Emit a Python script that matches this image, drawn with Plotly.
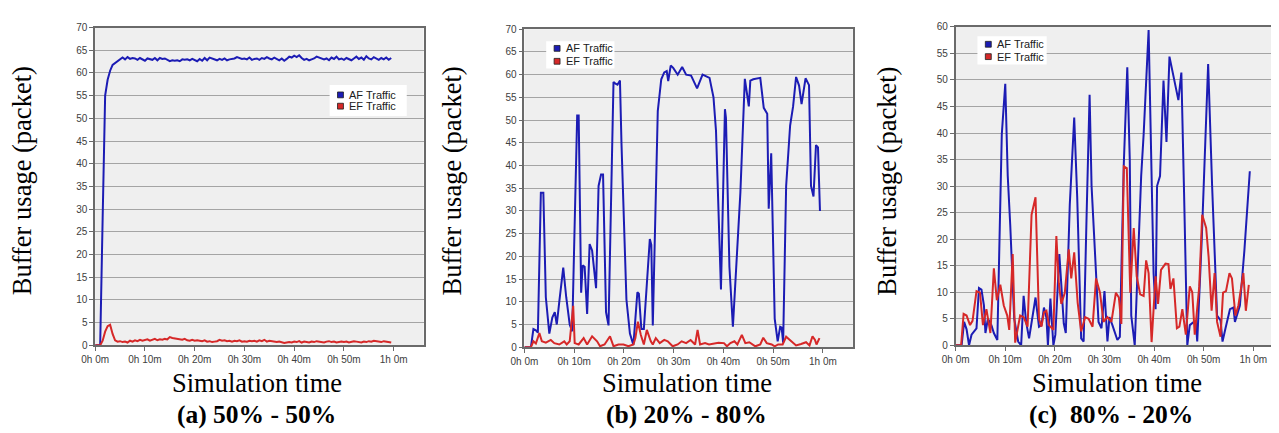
import plotly.graph_objects as go

# ---------------- data ----------------
tick_vals = [0, 10, 20, 30, 40, 50, 60]
tick_text = ["0h 0m", "0h 10m", "0h 20m", "0h 30m", "0h 40m", "0h 50m", "1h 0m"]

# panel (a): samples every 0.5 min, 0 .. 59.5
t_a = [i * 0.5 for i in range(120)]
af_a = [0, 0, 0, 28, 55, 58.5, 60.5, 61.8, 62.2, 62.4,
        62.8, 63.4, 63.0, 63.5, 63.1, 63.3, 63.2, 62.9, 63.3, 63.0,
        62.7, 63.2, 63.1, 62.9, 63.3, 62.8, 63.3, 63.1, 63.2, 62.9,
        62.6, 62.8, 62.7, 62.8, 62.6, 63.0, 62.9, 63.0, 62.8, 63.1,
        62.9, 62.6, 63.1, 62.7, 63.3, 62.8, 63.4, 63.2, 63.0, 62.8,
        63.1, 62.9, 63.2, 62.8, 63.0, 63.1, 63.2, 63.5, 63.3, 63.1,
        63.2, 63.0, 63.4, 62.9, 63.1, 63.2, 62.9, 63.3, 63.1, 63.5,
        63.2, 63.0, 63.4, 63.1, 62.8, 63.2, 62.7, 63.1, 63.6, 63.4,
        63.8, 63.5, 63.9, 63.3, 62.9, 63.1, 62.8, 63.0, 63.2, 63.6,
        63.4, 63.3, 63.0, 63.2, 62.8, 63.4, 63.1, 63.6, 63.0, 63.2,
        62.9, 63.3, 63.0, 62.8, 63.2, 63.6, 63.1, 63.4, 62.9, 63.7,
        63.2, 63.0, 63.5, 63.1, 62.9, 63.3, 63.0, 63.4, 62.9, 63.3]
ef_a = [0, 0, 0, 1.0, 3.0, 4.2, 4.5, 2.5, 1.1, 0.8,
        0.9, 0.7, 0.8, 0.6, 1.0, 0.8, 1.1, 0.9, 1.2, 1.0,
        1.1, 1.3, 1.0, 1.2, 1.4, 1.1, 1.3, 1.2, 1.4, 1.3,
        1.8, 1.6, 1.5, 1.4, 1.3, 1.2, 1.4, 1.1, 1.0, 1.2,
        1.0, 1.1, 1.0, 0.9, 1.1, 0.8, 0.9, 0.7, 0.8, 0.9,
        1.2, 1.0, 1.1, 0.9, 1.0, 0.8, 1.0, 0.9, 1.1, 0.8,
        0.9, 0.8, 1.0, 0.9, 1.0, 0.8, 1.1, 0.9, 1.2, 0.8,
        1.0, 0.9, 0.8, 0.7, 0.8, 0.6, 0.5, 0.6, 0.7, 0.6,
        0.8, 0.7, 0.9, 0.6, 0.8, 0.7, 0.6, 0.8, 0.7, 0.9,
        0.8, 0.7, 0.6, 0.8, 0.9, 0.7, 0.8, 0.6, 0.7, 0.8,
        0.7, 0.8, 0.6, 0.7, 0.9, 0.8, 0.7, 0.6, 0.8, 0.7,
        0.9, 0.8, 1.0, 0.9, 0.8, 0.7, 0.9, 0.8, 0.7, 0.6]

# panel (b)
t_af_b = [0, 1.3, 1.8, 2.3, 2.7, 3.3, 3.8, 4.3, 5.0, 5.6, 6.1, 6.5, 7.0, 7.8, 8.4, 9.1, 9.6,
          10.6, 10.9, 11.4, 11.7, 12.1, 12.6, 13.1, 13.6, 14.4, 14.9, 15.4, 15.8, 16.4, 16.9,
          17.9, 18.3, 18.7, 19.2, 19.5, 20.5, 21.2, 21.9, 22.7, 23.0, 23.5, 24.0, 25.2, 25.5,
          25.8, 26.8, 27.5, 28.1, 28.6, 28.9, 29.4, 29.9, 30.8, 31.7, 32.5, 33.5, 34.7, 35.8,
          37.2, 38.0, 38.5, 39.5, 40.3, 40.5, 41.2, 41.9, 42.7, 43.4, 44.3, 45.1, 45.4, 46.0,
          47.4, 48.1, 48.8, 49.1, 49.6, 50.3, 50.9, 51.4, 51.7, 52.0, 52.6, 53.4, 54.0, 54.6,
          55.2, 55.7, 56.5, 57.2, 57.6, 58.1, 58.6, 59.0, 59.4]
af_b = [0, 0, 4, 3.7, 3.2, 34, 34, 11, 3, 6.5, 7.7, 5, 10, 17.5, 11, 5, 3.5,
        51, 51, 12, 18, 17.7, 7.3, 22.7, 21.3, 13, 35.5, 38, 38, 7.7, 4.8,
        58.4, 58, 57.8, 58.7, 45, 10.5, 3, 0.5, 12.1, 11.8, 4, 4, 23.8, 22.5,
        4.8, 52, 59, 60.5, 60.8, 58.6, 62, 61.5, 60, 61.7, 60, 59.8, 57, 60,
        59.3, 55, 47.7, 12.7, 52.4, 50.5, 17.7, 4.5, 20.5, 34, 59.1, 53, 58.7, 59,
        59.3, 52.7, 51.4, 30.5, 42.7, 6.3, 1.3, 4.5, 4.3, 1, 35.5, 48.8, 53, 59.5,
        57.6, 53.5, 59.2, 57.7, 35.5, 33.2, 44.5, 44, 30]
t_ef_b = [0, 1.3, 1.8, 2.3, 3.0, 3.5, 4.3, 5.3, 6.0, 7.0, 8.0, 8.5, 9.1, 9.8, 10.1, 10.9,
          11.9, 12.6, 13.6, 14.6, 15.2, 16.1, 17.2, 17.9, 18.9, 19.9, 20.9, 21.9, 22.3, 22.8,
          23.4, 24.0, 24.6, 25.4, 25.8, 26.4, 27.2, 28.1, 28.8, 29.8, 30.8, 31.6, 32.5, 33.4,
          34.3, 34.8, 35.3, 36.3, 37.1, 38.1, 39.0, 40.1, 40.7, 41.4, 42.2, 42.8, 43.7, 44.4,
          45.2, 46.4, 47.4, 48.0, 48.7, 49.7, 50.3, 51.0, 51.9, 52.6, 53.6, 54.6, 55.6, 56.6,
          57.3, 57.9, 58.4, 58.7, 59.3]
ef_b = [0, 0, 1.3, 0.8, 3.1, 1.3, 1.0, 1.6, 0.9, 0.6, 1.3, 0.6, 1.3, 9.1, 0.9, 0.6,
        2.0, 0.6, 2.4, 1.3, 0.2, 0.6, 2.4, 0.2, 0.6, 0.6, 0.2, 0.6, 2.0, 5.6,
        2.7, 0.6, 3.8, 1.3, 0.6, 2.0, 0.9, 1.6, 1.3, 0.2, 0.6, 1.3, 0.9, 1.6,
        0.6, 3.8, 0.6, 0.9, 0.6, 0.9, 1.0, 0.9, 0.2, 0.9, 1.3, 0.6, 2.7, 0.9,
        1.1, 0.2, 0.6, 2.1, 0.9, 0.6, 0.2, 0.6, 0.6, 2.3, 1.3, 0.4, 0.7, 1.1,
        0.4, 2.4, 1.6, 0.6, 2.0]

# panel (c)
t_af_c = [0, 1.2, 1.7, 2.2, 2.7, 3.2, 4.2, 4.7, 5.2, 5.7, 6.0, 6.5, 7.2, 7.7, 8.4, 9.3,
          10.0, 10.5, 11.0, 11.8, 12.6, 13.2, 13.7, 14.2, 14.8, 15.3, 16.1, 16.8, 17.3, 17.8,
          18.3, 18.6, 19.1, 19.7, 20.1, 20.9, 21.5, 21.8, 22.2, 23.0, 23.9, 24.5, 25.3, 25.8,
          26.4, 27.0, 27.4, 28.8, 29.4, 30.0, 30.6, 31.0, 31.6, 32.6, 33.1, 33.9, 34.6, 35.1,
          35.4, 36.1, 37.4, 37.9, 38.9, 39.4, 39.9, 40.3, 40.6, 41.2, 41.9, 42.5, 43.1, 44.9,
          45.5, 46.0, 46.7, 47.2, 48.0, 48.4, 48.7, 49.6, 50.9, 51.7, 52.7, 53.4, 53.8, 54.4,
          55.3, 56.0, 56.3, 57.3, 58.2, 59.3]
af_c = [0, 0, 4.4, 3.0, 0, 2, 3.2, 10.8, 10.5, 7.5, 2.3, 5, 3.8, 2.3, 1, 39.8,
        49.3, 31.9, 22.7, 5, 0.7, 0, 9.3, 4.4, 1.3, 4, 9, 3.5, 3.8, 7.1,
        5.2, 0, 8.8, 0, 2, 17.2, 7.5, 4.1, 2.3, 26.4, 42.9, 28, 1.3, 0.7,
        24.6, 47.2, 30, 4.4, 3.2, 10.2, 0.7, 5.3, 3.8, 1, 1.6, 34.3, 52.4, 35,
        5.6, 0, 31.9, 39.8, 59.4, 35, 13.6, 6.8, 30, 31.9, 49.9, 38.3, 54.4, 46.2,
        51.4, 30.7, 0, 3.8, 4.4, 4.5, 0.7, 19.7, 53, 30, 5.6, 4.7, 0.7, 3.2,
        6.8, 7.1, 4.4, 7.5, 17.8, 32.8]
t_ef_c = [0, 1.1, 1.6, 2.2, 2.9, 3.4, 4.2, 4.9, 5.5, 6.2, 7.0, 7.7, 8.3, 9.0, 9.7, 10.4,
          10.8, 11.5, 12.0, 13.0, 13.7, 14.5, 15.3, 16.1, 16.8, 17.3, 17.8, 18.3, 18.8, 19.7,
          20.3, 20.8, 21.3, 22.0, 22.8, 23.3, 23.9, 24.6, 25.3, 26.1, 26.8, 27.6, 28.3, 29.1,
          29.8, 30.6, 31.4, 32.3, 32.9, 33.4, 33.9, 34.5, 35.2, 35.9, 36.5, 37.2, 37.9, 38.4,
          38.9, 39.5, 40.3, 40.8, 41.4, 42.3, 42.9, 43.3, 43.9, 44.6, 45.1, 45.7, 46.4, 47.2,
          47.7, 48.2, 49.1, 49.7, 50.5, 51.0, 51.6, 52.2, 52.7, 53.4, 53.9, 54.5, 55.2, 55.7,
          56.4, 57.0, 58.0, 58.5, 59.1]
ef_c = [0, 0, 5.9, 5.6, 3.8, 4.6, 10.2, 9.9, 3.8, 6.8, 2.3, 14.5, 8.5, 11.4, 7.5, 5.6,
        2.9, 17.2, 0.5, 5.6, 5.3, 3.5, 24.6, 27.9, 5, 3.5, 6.2, 6.5, 3.8, 2.9,
        20.6, 11.7, 7.8, 9.9, 18.1, 12.6, 17.5, 8, 2.6, 5.3, 5, 3.5, 12.6, 9.9,
        4.4, 5.3, 4.4, 9.9, 9, 4, 33.7, 33.4, 9.9, 22.1, 13, 9.6, 9.3, 16,
        13.6, 0.6, 13, 7.8, 14.2, 15.4, 15.3, 10.6, 12.6, 3.2, 3.5, 6.8, 2, 11.1,
        10.0, 2, 11, 24.6, 22.1, 16.6, 6.5, 13.6, 4.4, 1.6, 9.9, 10.2, 13.6, 12.6,
        5.6, 7.5, 13.6, 6.5, 11.4]

series_names = ["AF Traffic", "EF Traffic"]
captions = ["(a) 50% - 50%", "(b) 20% - 80%", "(c)\u00a0\u00a080% - 20%"]
y_max = [70, 70, 60]

# ---------------- style ----------------
W, H = 1279, 433
BLUE = "#1c1cb4"
RED = "#d62828"
panels_px = [  # left, right, top, bottom in pixels
    (74, 406, 14, 340.7),
    (508, 840, 15.7, 342.7),
    (944, 1275, 13.3, 340.7),
]
# legend box: left, top, width, height, row spacing
legend_px = [(311, 73, 78, 32, 11.6), (530, 28, 69, 28, 13.3), (966, 23, 70, 29, 12.7)]
xtitle_px = [(238, 380), (672, 380), (1107, 380)]
cap_px = [(237, 412), (672, 412), (1101, 412)]
ytitle_px = [(0, 172), (435, 172), (875, 172)]


def px(x):
    return x / W


def py(y):
    return 1 - y / H


fig = go.Figure()
data = [
    ((t_a, af_a), (t_a, ef_a)),
    ((t_af_b, af_b), (t_ef_b, ef_b)),
    ((t_af_c, af_c), (t_ef_c, ef_c)),
]
for i, ((tx1, y1), (tx2, y2)) in enumerate(data):
    ax = "" if i == 0 else str(i + 1)
    fig.add_trace(go.Scatter(x=tx1, y=y1, mode="lines", line=dict(color=BLUE, width=2),
                             name=series_names[0], xaxis="x" + ax, yaxis="y" + ax,
                             showlegend=False))
    fig.add_trace(go.Scatter(x=tx2, y=y2, mode="lines", line=dict(color=RED, width=2),
                             name=series_names[1], xaxis="x" + ax, yaxis="y" + ax,
                             showlegend=False))

axis_common = dict(showline=True, mirror=True, linecolor="#6a6a6a", linewidth=1.5,
                   ticks="outside", ticklen=4, tickcolor="#6a6a6a", zeroline=False,
                   tickfont=dict(family="Liberation Sans, Arial", size=10, color="#404040"))
layout = dict(width=W, height=H, margin=dict(l=0, r=0, t=0, b=0), showlegend=False,
              paper_bgcolor="white", plot_bgcolor="#efefef", annotations=[], shapes=[])
serif = "Liberation Serif, Times New Roman"
for i, (l, r, t, b) in enumerate(panels_px):
    ax = "" if i == 0 else str(i + 1)
    layout["xaxis" + ax] = dict(axis_common, domain=[px(l), px(r)], range=[0, 66],
                                tickvals=tick_vals, ticktext=tick_text, showgrid=False,
                                anchor="y" + ax)
    layout["yaxis" + ax] = dict(axis_common, domain=[py(b), py(t)],
                                range=[0, y_max[i]], dtick=5, showgrid=True,
                                gridcolor="#a4a4a4", gridwidth=1, anchor="x" + ax)
    # legend
    lx, ly, lw, lh, sp = legend_px[i]
    layout["shapes"].append(dict(type="rect", xref="paper", yref="paper",
                                 x0=px(lx), x1=px(lx + lw), y0=py(ly + lh), y1=py(ly),
                                 fillcolor="white", line=dict(width=0), layer="above"))
    for k, (name, col) in enumerate(zip(series_names, [BLUE, RED])):
        cy = ly + lh / 2 - sp / 2 + k * sp
        layout["shapes"].append(dict(type="rect", xref="paper", yref="paper",
                                     x0=px(lx + 8), x1=px(lx + 14), y0=py(cy + 3),
                                     y1=py(cy - 3), fillcolor=col,
                                     line=dict(color="#202020", width=0.8), layer="above"))
        layout["annotations"].append(dict(text=name, x=px(lx + 18), y=py(cy),
                                          xref="paper", yref="paper", showarrow=False,
                                          xanchor="left", yanchor="middle",
                                          font=dict(family="Liberation Sans, Arial",
                                                    size=11, color="#202020")))
    tx, ty = xtitle_px[i]
    layout["annotations"].append(dict(text="Simulation time", x=px(tx), y=py(ty),
                                      xref="paper", yref="paper", showarrow=False,
                                      xanchor="center", yanchor="middle",
                                      font=dict(family=serif, size=26.5, color="black")))
    cx, cy = cap_px[i]
    layout["annotations"].append(dict(text="<b>" + captions[i] + "</b>", x=px(cx),
                                      y=py(cy), xref="paper", yref="paper",
                                      showarrow=False, xanchor="center", yanchor="middle",
                                      font=dict(family=serif, size=25.5, color="black")))
    yx, yy = ytitle_px[i]
    layout["annotations"].append(dict(text="Buffer usage (packet)", x=px(yx), y=py(yy),
                                      xref="paper", yref="paper", showarrow=False,
                                      xanchor="center", yanchor="middle", textangle=-90,
                                      font=dict(family=serif, size=26.5, color="black")))

fig.update_layout(**layout)
fig.write_html("out.html")
